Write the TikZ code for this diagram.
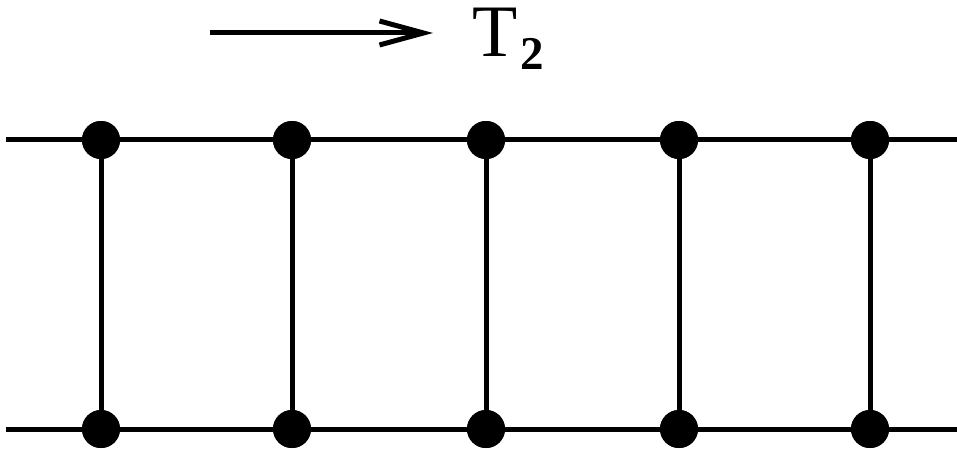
\documentclass[tikz,border=0pt]{standalone}
\usepackage{fontspec}
\setmainfont{Liberation Serif}
\usetikzlibrary{arrows.meta}
\begin{document}
\begin{tikzpicture}[x=1pt,y=-1pt,
  rail/.style={line width=5pt},
  rung/.style={line width=5pt},
  dot/.style={circle,fill=black,inner sep=0pt,minimum size=38pt},
  mover/.style={line width=5pt,-{Straight Barb[length=44pt,width=24pt,line width=5pt]}}]
\useasboundingbox (0,0) rectangle (957,449);
\coordinate (tl) at (6,140);
\coordinate (tr) at (957,140);
\coordinate (bl) at (6,429);
\coordinate (br) at (957,429);
\draw[rail] (tl) -- (tr);
\draw[rail] (bl) -- (br);
\foreach \i/\x in {1/101,2/292,3/486,4/679,5/870}{
  \node[dot] (t\i) at (\x,140) {};
  \node[dot] (b\i) at (\x,429) {};
  \draw[rung] (t\i.center) -- (b\i.center);
  \node[dot] at (\x,140) {};
  \node[dot] at (\x,429) {};
}
\coordinate (as) at (210,33);
\coordinate (ae) at (433,33);
\draw[mover] (as) -- (ae);
\node[anchor=base west,inner sep=0pt,font=\fontsize{74}{80}\selectfont] (T) at (472,57) {T};
\node[anchor=base west,inner sep=0pt,font=\fontsize{47}{52}\selectfont\bfseries] (two) at (520,70) {2};
\end{tikzpicture}
\end{document}
